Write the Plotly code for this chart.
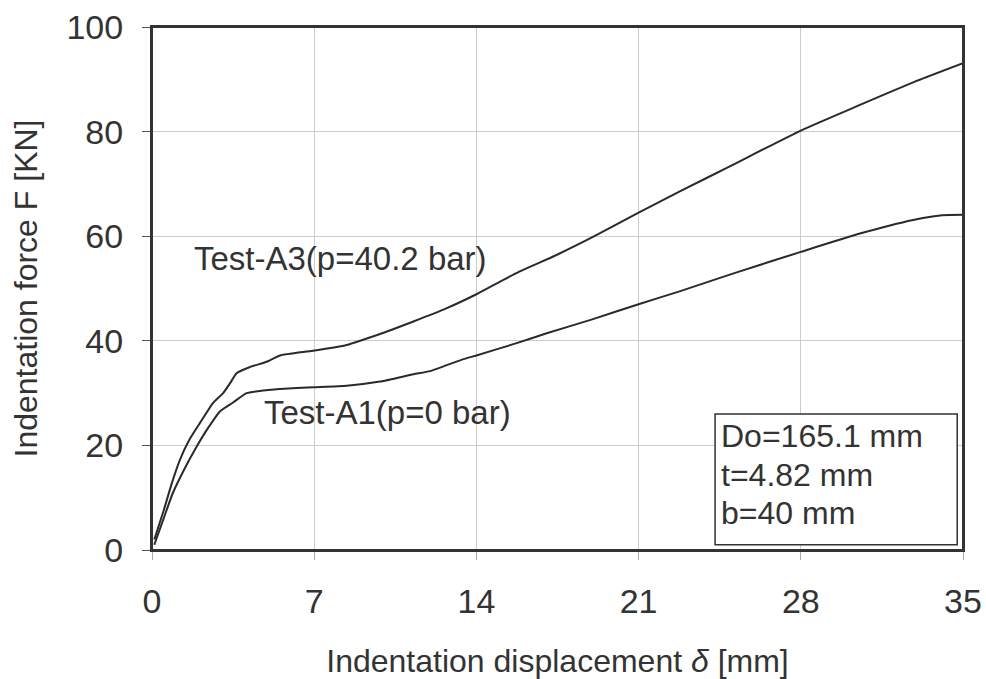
import plotly.graph_objects as go

# Test-A3 (p=40.2 bar)
a3_x = [0.1, 0.5, 0.85, 1.2, 1.6, 2.07, 2.63, 3.07, 3.37, 3.65, 4.23, 4.95, 5.52, 6.95, 8.4, 9.84,
        11.28, 12.7, 14.0, 15.7, 17.5, 19.05, 21.0, 22.8, 25.0, 28.0, 30.5, 33.0, 35.0]
a3_y = [2.0, 7.5, 12.7, 17.2, 21.0, 24.3, 28.1, 30.0, 31.9, 33.8, 35.0, 36.0, 37.2, 38.1, 39.2, 41.3,
        43.7, 46.2, 48.9, 52.9, 56.5, 59.9, 64.5, 68.6, 73.5, 80.2, 85.0, 89.7, 93.1]

# Test-A1 (p=0 bar)
a1_x = [0.1, 0.5, 0.9, 1.4, 1.93, 2.4, 2.93, 3.5, 4.08, 4.8, 5.52, 6.96, 8.4, 9.84, 11.28, 12.0,
        13.44, 14.0, 15.7, 17.0, 19.0, 21.0, 22.8, 25.1, 28.0, 30.55, 32.85, 34.1, 35.0]
a1_y = [1.0, 6.0, 10.9, 15.5, 19.8, 23.2, 26.5, 28.2, 30.0, 30.5, 30.8, 31.1, 31.4, 32.2, 33.6, 34.2,
        36.5, 37.2, 39.5, 41.4, 44.1, 47.0, 49.5, 52.9, 57.0, 60.5, 63.1, 64.0, 64.1]

x_ticks = [0, 7, 14, 21, 28, 35]
y_ticks = [0, 20, 40, 60, 80, 100]

box_lines = ["Do=165.1 mm", "t=4.82 mm", "b=40 mm"]

FONT = "Liberation Sans, Arial, sans-serif"
TXT = "#333333"
LINE = "#2a2a2a"

fig = go.Figure()
fig.add_trace(go.Scatter(x=a3_x, y=a3_y, mode="lines", name="Test-A3",
                         line=dict(color=LINE, width=2, shape="spline", smoothing=0.5)))
fig.add_trace(go.Scatter(x=a1_x, y=a1_y, mode="lines", name="Test-A1",
                         line=dict(color=LINE, width=2, shape="spline", smoothing=0.5)))

fig.add_annotation(x=1.73, y=55.8, xref="x", yref="y", text="Test-A3(p=40.2 bar)",
                   showarrow=False, xanchor="left", yanchor="middle",
                   font=dict(family=FONT, size=33, color=TXT))
fig.add_annotation(x=4.75, y=26.2, xref="x", yref="y", text="Test-A1(p=0 bar)",
                   showarrow=False, xanchor="left", yanchor="middle",
                   font=dict(family=FONT, size=33, color=TXT))

# plot frame
fig.add_shape(type="rect", xref="paper", yref="paper", x0=0, x1=1, y0=0, y1=1,
              line=dict(color="#333333", width=2), layer="above")

# parameter box
fig.add_shape(type="rect", xref="x", yref="y", x0=24.3, x1=34.75, y0=1.0, y1=26.0,
              line=dict(color="#333333", width=1.5), fillcolor="white", layer="above")
for i, t in enumerate(box_lines):
    fig.add_annotation(x=24.45, y=21.8 - i * 7.4, xref="x", yref="y", text=t,
                       showarrow=False, xanchor="left", yanchor="middle",
                       font=dict(family=FONT, size=32, color=TXT))

fig.update_layout(
    width=986, height=679,
    margin=dict(l=152, r=23, t=27, b=129, autoexpand=False),
    paper_bgcolor="white", plot_bgcolor="white",
    showlegend=False,
    font=dict(family=FONT, color=TXT),
)
fig.update_xaxes(range=[0, 35], tickvals=x_ticks, ticks="outside", ticklen=8, tickcolor="#aaaaaa",
                 showgrid=True, gridcolor="#cccccc", gridwidth=1, zeroline=False,
                 showline=True, linecolor="#333333", linewidth=2, mirror=True, automargin=False,
                 ticklabeloverflow="allow",
                 tickfont=dict(family=FONT, size=34, color=TXT), ticklabelstandoff=12,
                 title=dict(text="Indentation displacement <i>δ</i> [mm]",
                            font=dict(family=FONT, size=32, color=TXT), standoff=32))
fig.update_yaxes(range=[0, 100], tickvals=y_ticks, ticks="outside", ticklen=8, tickcolor="#555555",
                 showgrid=True, gridcolor="#cccccc", gridwidth=1, zeroline=False,
                 showline=True, linecolor="#333333", linewidth=2, mirror=True, automargin=False,
                 ticklabeloverflow="allow",
                 tickfont=dict(family=FONT, size=34, color=TXT), ticklabelstandoff=12,
                 title=dict(text="Indentation force F [KN]",
                            font=dict(family=FONT, size=32, color=TXT), standoff=19))

fig.write_html("out.html", config={"displayModeBar": False},
               post_script="document.body.style.margin='0';document.body.style.overflow='hidden';")
